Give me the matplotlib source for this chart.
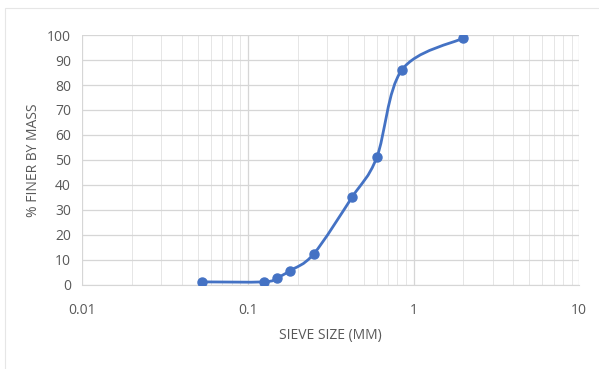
import numpy as np
import matplotlib
matplotlib.use('Agg')
import matplotlib.pyplot as plt
from matplotlib.path import Path
from matplotlib.patches import PathPatch, Rectangle

# sieve analysis data
sieve_mm = [0.053, 0.125, 0.15, 0.18, 0.25, 0.425, 0.6, 0.85, 2.0]
pct_finer = [1.2, 1.2, 2.8, 5.7, 12.4, 35, 51, 86, 98.8]

plt.rcParams['font.family'] = ['Open Sans', 'DejaVu Sans']
txt = '#595959'
blue = '#4472C4'

fig = plt.figure(figsize=(5.99, 3.69), dpi=100)
ax = fig.add_axes([0.137, 0.228, 0.830, 0.677])
ax.set_xscale('log')
ax.set_xlim(0.01, 10)
ax.set_ylim(0, 100)
ax.set_yticks(range(0, 101, 10))
ax.set_xticks([0.01, 0.1, 1, 10])
ax.set_xticklabels(['0.01', '0.1', '1', '10'])

ax.grid(True, which='major', color='#d6d6d6', lw=0.9)
ax.grid(True, which='minor', axis='x', color='#e6e6e6', lw=0.7)
ax.set_axisbelow(True)
for s in ['top', 'right', 'left']:
    ax.spines[s].set_visible(False)
ax.spines['bottom'].set_color('#d6d6d6')
ax.tick_params(which='both', length=0, colors=txt, labelsize=10)
ax.tick_params(axis='x', pad=13)
ax.tick_params(axis='y', pad=8)

# smoothed line like a spreadsheet "smooth line" (bezier through the points)
lx = np.log10(sieve_mm)
y = np.array(pct_finer, dtype=float)
n = len(lx)
verts = [(sieve_mm[0], y[0])]
codes = [Path.MOVETO]
for i in range(n - 1):
    p0 = (lx[max(i - 1, 0)], y[max(i - 1, 0)])
    p1 = (lx[i], y[i])
    p2 = (lx[i + 1], y[i + 1])
    p3 = (lx[min(i + 2, n - 1)], y[min(i + 2, n - 1)])
    c1 = (p1[0] + (p2[0] - p0[0]) / 6, p1[1] + (p2[1] - p0[1]) / 6)
    c2 = (p2[0] - (p3[0] - p1[0]) / 6, p2[1] - (p3[1] - p1[1]) / 6)
    for c in (c1, c2, p2):
        verts.append((10 ** c[0], c[1]))
        codes.append(Path.CURVE4)
ax.add_patch(PathPatch(Path(verts, codes), fill=False, edgecolor=blue, lw=2, zorder=3))
ax.plot(sieve_mm, pct_finer, 'o', color=blue, ms=6.5, zorder=4)

ax.set_xlabel('SIEVE SIZE (MM)', color=txt, fontsize=10, labelpad=7)
ax.set_ylabel('% FINER BY MASS', color=txt, fontsize=10, labelpad=4)

fig.patches.append(Rectangle((0.009, -0.01), 1.1, 0.988, transform=fig.transFigure,
                             fill=False, edgecolor='#e6e6e6', lw=0.8))

fig.savefig('out.png', dpi=100)
